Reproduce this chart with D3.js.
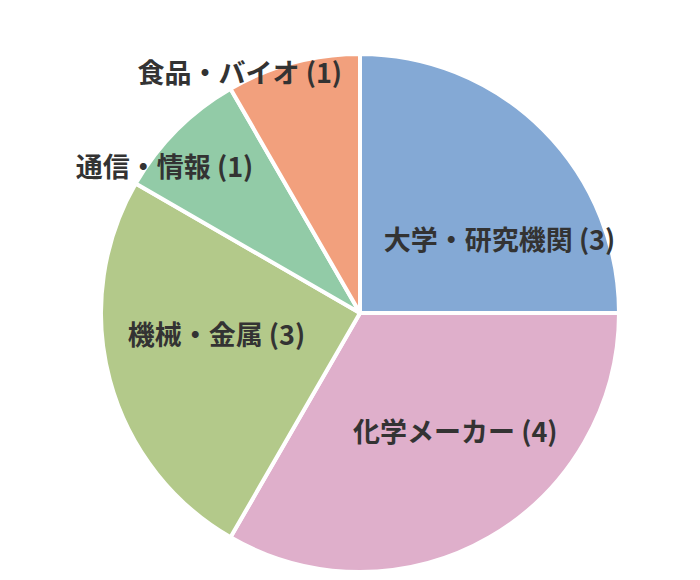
<!DOCTYPE html>
<html>
<head>
<meta charset="utf-8">
<script src="https://cdn.jsdelivr.net/npm/d3@7"></script>
<style>
  body { margin: 0; background: #fff; }
</style>
</head>
<body>
<svg id="PieChart" width="700" height="580"></svg>
<script>
// data
const categories = ["大学・研究機関", "化学メーカー", "機械・金属", "通信・情報", "食品・バイオ"];
const counts = [3, 4, 3, 1, 1];
const colors = ["#84a9d5", "#dfafcb", "#b3c98a", "#92cba7", "#f2a07d"];
// label placement: angle (deg, clockwise from top) and radius as fraction of pie radius
const labelAngle = [62, 141, 262, 307, 333.5];
const labelRadius = [0.61, 0.585, 0.56, 0.945, 1.04];

const svg = d3.select("#PieChart");
const cx = 360, cy = 313, radius = 259;

const g = svg.append("g").attr("transform", `translate(${cx},${cy})`);

const data = categories.map((c, i) => ({ name: c, value: counts[i], i }));

const pie = d3.pie()
    .value(d => d.value)
    .sort(null);

const arc = d3.arc()
    .innerRadius(0)
    .outerRadius(radius);

const arcs = pie(data);

g.selectAll("path")
    .data(arcs)
    .join("path")
    .attr("d", arc)
    .attr("fill", d => colors[d.data.i])
    .attr("stroke", "#fff")
    .attr("stroke-width", 4)
    .attr("stroke-linejoin", "round");

g.selectAll("text")
    .data(arcs)
    .join("text")
    .attr("x", d => Math.sin(labelAngle[d.data.i] * Math.PI / 180) * radius * labelRadius[d.data.i])
    .attr("y", d => -Math.cos(labelAngle[d.data.i] * Math.PI / 180) * radius * labelRadius[d.data.i])
    .attr("text-anchor", "middle")
    .attr("dominant-baseline", "central")
    .style("font-family", "'Noto Sans CJK JP', 'Noto Sans', sans-serif")
    .style("font-size", "27px")
    .style("font-weight", "700")
    .style("fill", "#333")
    .text(d => `${d.data.name} (${d.data.value})`);
</script>
</body>
</html>
